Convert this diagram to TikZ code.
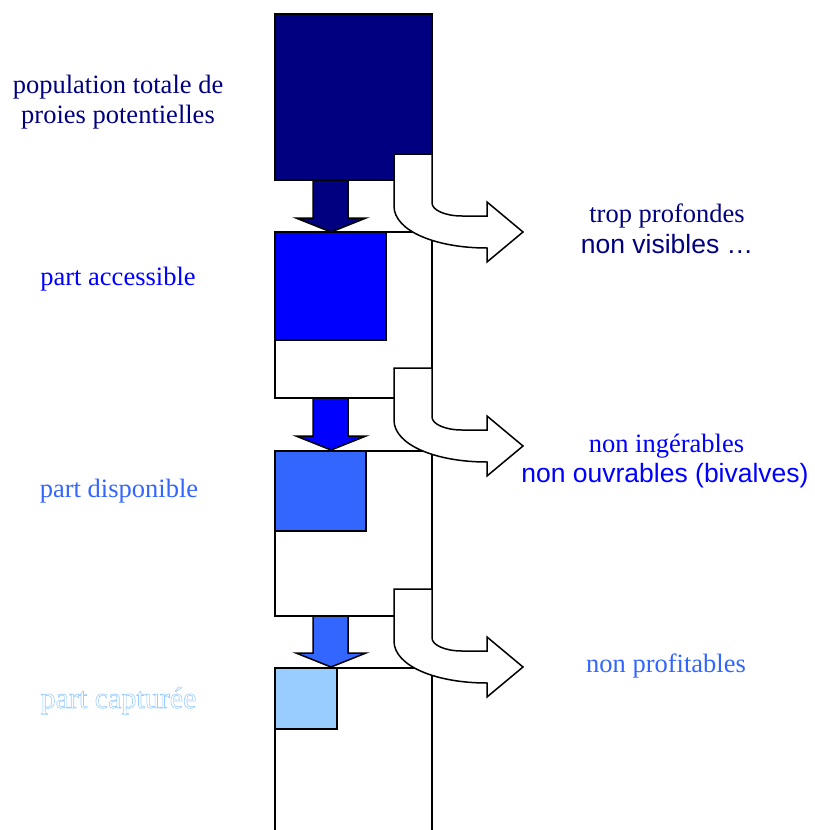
\documentclass[tikz,border=0pt]{standalone}
\usepackage{fontspec}
\setmainfont{Liberation Serif}
\setsansfont{Liberation Sans}
\definecolor{cnavy}{HTML}{000080}
\definecolor{cblue}{HTML}{0000FF}
\definecolor{cmid}{HTML}{3366FF}
\definecolor{clight}{HTML}{99CCFF}
\newcommand\mydownarrow[3]{%
  \filldraw[downarr, fill=#3] (313,#1) -- (348,#1) -- (348,#2-14) -- (366,#2-14)
    -- (331,#2) -- (296,#2-14) -- (313,#2-14) -- cycle;}
\newcommand\mybentarrow[1]{%
  \filldraw[bentarr] (394,#1) -- (432,#1) -- (432,#1+49)
    .. controls (432,#1+56) and (445,#1+62) .. (462,#1+62) -- (487,#1+62)
    -- (487,#1+48) -- (523,#1+78) -- (487,#1+108) -- (487,#1+94)
    .. controls (436,#1+94) and (394,#1+77) .. (394,#1+52) -- cycle;}
\begin{document}
\begin{tikzpicture}[x=1pt,y=-1pt,line width=1.5pt,
  framebox/.style={draw=black},
  downarr/.style={draw=black,line join=miter},
  bentarr/.style={draw=black,fill=white,line join=miter},
  lab/.style={anchor=base,inner sep=0pt,font=\fontsize{26.5}{30}\selectfont},
  sanslab/.style={lab,font=\fontsize{26.5}{30}\selectfont\sffamily}]
\useasboundingbox (0,0) rectangle (814,830);
% frames
\draw[framebox] (275,232) rectangle (432,398);
\draw[framebox] (275,451) rectangle (432,616);
\draw[framebox] (275,860) -- (275,668) -- (432,668) -- (432,860);
% squares
\filldraw[framebox,fill=cnavy] (275,14) rectangle (432,180);
\filldraw[framebox,fill=cblue] (275,232) rectangle (386,340);
\filldraw[framebox,fill=cmid] (275,451) rectangle (366,531);
\filldraw[framebox,fill=clight] (275,668) rectangle (337,729);
% down arrows
\mydownarrow{180}{232}{cnavy}
\mydownarrow{398}{450}{cblue}
\mydownarrow{616}{667}{cmid}
% bent arrows
\mybentarrow{154}
\mybentarrow{368}
\mybentarrow{589}
% left labels
\node[lab,text=cnavy] (pop1) at (118,93) {population totale de};
\node[lab,text=cnavy] (pop2) at (118,123) {proies potentielles};
\node[lab,text=cblue] (acc) at (118,285) {part accessible};
\node[lab,text=cmid] (dis) at (119,497) {part disponible};
\node[lab,text=clight,font=\fontsize{30}{33}\selectfont] (cap) at (118.5,708)
  {\special{pdf:literal direct 1 Tr 0.6 w}part capturée\special{pdf:literal direct 0 Tr}};
% right labels
\node[lab,text=cnavy] (trop) at (667,222) {trop profondes};
\node[sanslab,text=cnavy] (vis) at (667,253) {non visibles …};
\node[lab,text=cblue] (ing) at (666.5,452) {non ingérables};
\node[sanslab,text=cblue] (ouv) at (665,482) {non ouvrables (bivalves)};
\node[lab,text=cmid] (prof) at (666,672) {non profitables};
\end{tikzpicture}
\end{document}
